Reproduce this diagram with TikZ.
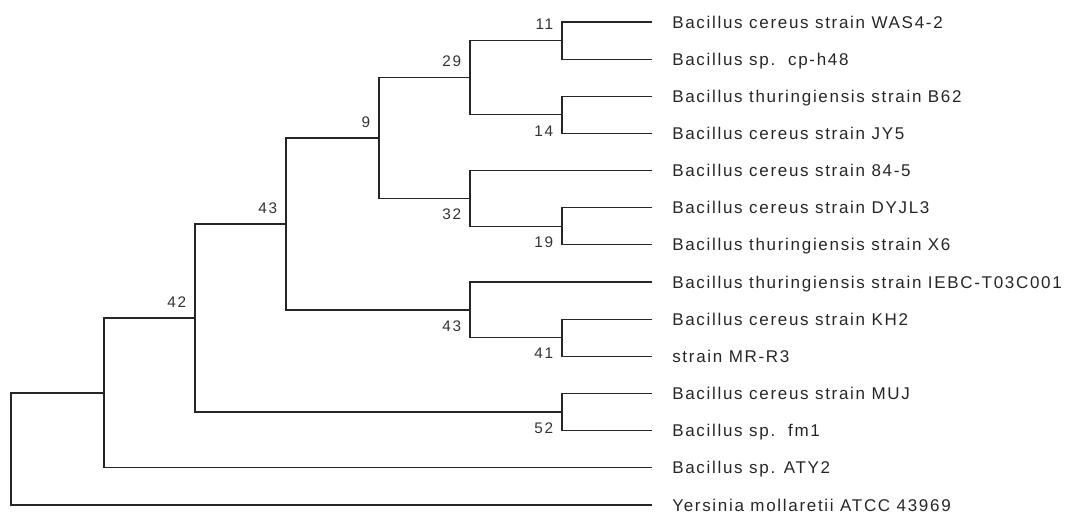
\documentclass[tikz,border=0pt]{standalone}
\usepackage{fontspec}
\setmainfont{Liberation Sans}[LetterSpace=10]
\usepackage{tikz}
\tikzstyle{branch}=[draw=black!85,line width=0.9pt]
\tikzstyle{tip}=[branch,shorten >=15pt]
\tikzstyle{leaf}=[anchor=west,inner sep=0pt,text=black!85,text height=9.1pt,text depth=0pt,font=\fontsize{12.75}{15}\selectfont]
\tikzstyle{boot}=[inner xsep=6.5pt,inner ysep=7.8pt,text=black!80,font=\fontsize{11.5}{13}\selectfont]
\tikzstyle{bsup}=[boot,anchor=south east]
\tikzstyle{bsdown}=[boot,anchor=north east]

\begin{document}
\begin{tikzpicture}[x=0.75pt,y=-0.75pt]
\useasboundingbox (0,0) rectangle (1067,513);

% taxa
\node [leaf] (was)  at (672,22.00)  {Bacillus cereus strain WAS4-2};
\node [leaf] (cph)  at (672,59.15)  {Bacillus sp.\ \ cp-h48};
\node [leaf] (b62)  at (672,96.30)  {Bacillus thuringiensis strain B62};
\node [leaf] (jy5)  at (672,133.45) {Bacillus cereus strain JY5};
\node [leaf] (c845) at (672,170.60) {Bacillus cereus strain 84-5};
\node [leaf] (dyjl) at (672,207.75) {Bacillus cereus strain DYJL3};
\node [leaf] (x6)   at (672,244.90) {Bacillus thuringiensis strain X6};
\node [leaf] (iebc) at (672,282.05) {Bacillus thuringiensis strain IEBC-T03C001};
\node [leaf] (kh2)  at (672,319.20) {Bacillus cereus strain KH2};
\node [leaf] (mr)   at (672,356.35) {strain MR-R3};
\node [leaf] (muj)  at (672,393.50) {Bacillus cereus strain MUJ};
\node [leaf] (fm1)  at (672,430.65) {Bacillus sp.\ \ fm1};
\node [leaf] (aty)  at (672,467.80) {Bacillus sp. ATY2};
\node [leaf] (yer)  at (672,504.95) {Yersinia mollaretii ATCC 43969};

% internal nodes
\coordinate (n11)  at (562,40.58);
\coordinate (n14)  at (562,114.88);
\coordinate (n29)  at (470,77.73);
\coordinate (n19)  at (562,226.33);
\coordinate (n32)  at (470,198.46);
\coordinate (n9)   at (379,138.10);
\coordinate (n41)  at (562,337.78);
\coordinate (n43b) at (470,309.91);
\coordinate (n43a) at (286,224.00);
\coordinate (n52)  at (562,412.08);
\coordinate (n42)  at (195,318.04);
\coordinate (na)   at (104,392.92);
\coordinate (root) at (11,448.94);

% branches
\foreach \p/\c in {root/na,na/n42,n42/n43a,n42/n52,n43a/n9,n43a/n43b,
                   n9/n29,n9/n32,n29/n11,n29/n14,n32/n19,n43b/n41}
  \draw [branch] (\p) |- (\c);
\foreach \p/\c in {n11/was,n11/cph,n14/b62,n14/jy5,n32/c845,n19/dyjl,n19/x6,
                   n43b/iebc,n41/kh2,n41/mr,n52/muj,n52/fm1,na/aty,root/yer}
  \draw [tip] (\p) |- (\c.west);

% bootstrap values
\node [bsup]   (b11)  at (n11)  {11};
\node [bsdown] (b14)  at (n14)  {14};
\node [bsup]   (b29)  at (n29)  {29};
\node [bsdown] (b19)  at (n19)  {19};
\node [bsdown] (b32)  at (n32)  {32};
\node [bsup]   (b9)   at (n9)   {9};
\node [bsdown] (b41)  at (n41)  {41};
\node [bsdown] (b43b) at (n43b) {43};
\node [bsup]   (b43a) at (n43a) {43};
\node [bsdown] (b52)  at (n52)  {52};
\node [bsup]   (b42)  at (n42)  {42};
\end{tikzpicture}
\end{document}
